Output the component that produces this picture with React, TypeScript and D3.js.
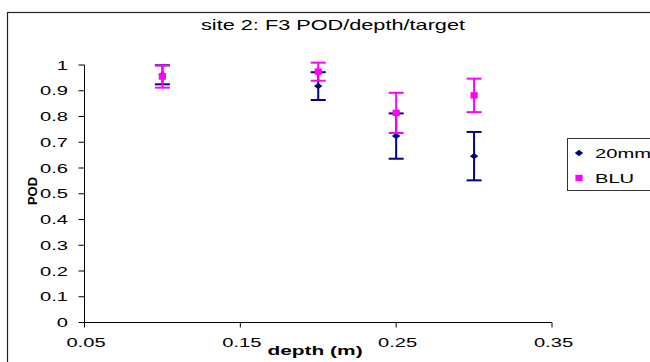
import React from "react";
import * as d3 from "d3";

const depths = [0.1, 0.2, 0.25, 0.3];
const pod20mm = [0.962, 0.918, 0.724, 0.646];
const err20mm = [0.037, 0.054, 0.088, 0.094];
const podBLU = [0.955, 0.974, 0.814, 0.882];
const errBLU = [0.043, 0.035, 0.078, 0.065];
const xTicks = [0.05, 0.15, 0.25, 0.35];
const yTicks = [0, 0.1, 0.2, 0.3, 0.4, 0.5, 0.6, 0.7, 0.8, 0.9, 1];

const W = 650;
const H = 362;
const font = "Arial, 'Liberation Sans', sans-serif";
const SX = 1.55; // horizontal stretch of the chart's lettering

type TProps = {
  x: number;
  y: number;
  size: number;
  anchor?: "start" | "middle" | "end";
  bold?: boolean;
  children: React.ReactNode;
};

function WideText({ x, y, size, anchor = "start", bold, children }: TProps) {
  return (
    <text
      transform={`translate(${x},${y}) scale(${SX},1)`}
      textAnchor={anchor}
      fontSize={size}
      fontWeight={bold ? "bold" : "normal"}
      fill="#000"
    >
      {children}
    </text>
  );
}

export default function App() {
  const x = d3.scaleLinear().domain([0.05, 0.35]).range([84.5, 552]);
  const y = d3.scaleLinear().domain([0, 1]).range([322.5, 65]);

  const diamond = "M0,-3.2L4.2,0L0,3.2L-4.2,0Z";
  const square = "M-3.6,-3.2H3.6V3.2H-3.6Z";

  const series = [
    { name: "20mm", vals: pod20mm, errs: err20mm, color: "#000080", shape: diamond },
    { name: "BLU", vals: podBLU, errs: errBLU, color: "#FF00FF", shape: square },
  ];

  const cap = 7.5;

  return (
    <svg
      width={W}
      height={H}
      style={{ position: "fixed", left: 0, top: 0, background: "#fff" }}
      fontFamily={font}
    >
      <rect x={7.5} y={12.5} width={700} height={400} fill="#fff" stroke="#222" strokeWidth={1.2} />
      <WideText x={333} y={30} size={14} anchor="middle">
        site 2: F3 POD/depth/target
      </WideText>

      {/* axes */}
      <line x1={x(0.05)} x2={x(0.05)} y1={y(1)} y2={y(0)} stroke="#000" />
      <line x1={x(0.05)} x2={x(0.35)} y1={y(0)} y2={y(0)} stroke="#000" />
      {yTicks.map((t) => (
        <g key={"y" + t}>
          <line x1={x(0.05) - 6} x2={x(0.05)} y1={y(t)} y2={y(t)} stroke="#000" />
          <WideText x={68} y={y(t) + 4.7} size={13} anchor="end">
            {t === 0 || t === 1 ? String(t) : t.toFixed(1)}
          </WideText>
        </g>
      ))}
      {xTicks.map((t) => (
        <g key={"x" + t}>
          <line x1={x(t)} x2={x(t)} y1={y(0)} y2={y(0) + 5} stroke="#000" />
          <WideText x={x(t) + 1.5} y={347} size={13} anchor="middle">
            {t.toFixed(2)}
          </WideText>
        </g>
      ))}
      <WideText x={315} y={355} size={13.5} anchor="middle" bold>
        depth (m)
      </WideText>
      <text
        transform={`translate(37,191) rotate(-90)`}
        textAnchor="middle"
        fontSize={13}
        fontWeight="bold"
      >
        POD
      </text>

      {/* error bars and markers */}
      {series.map((s) => (
        <g key={s.name}>
          {depths.map((d, i) => {
            const cx = x(d);
            const top = y(s.vals[i] + s.errs[i]);
            const bot = y(s.vals[i] - s.errs[i]);
            return (
              <g key={i} stroke={s.color} strokeWidth={2}>
                <line x1={cx} x2={cx} y1={top} y2={bot} />
                <line x1={cx - cap} x2={cx + cap} y1={top} y2={top} />
                <line x1={cx - cap} x2={cx + cap} y1={bot} y2={bot} />
              </g>
            );
          })}
          {depths.map((d, i) => (
            <path
              key={"m" + i}
              d={s.shape}
              transform={`translate(${x(d)},${y(s.vals[i])})`}
              fill={s.color}
            />
          ))}
        </g>
      ))}

      {/* legend */}
      <rect x={567.5} y={138.5} width={100} height={52} fill="#fff" stroke="#333" />
      {series.map((s, i) => (
        <g key={"lg" + s.name}>
          <path d={s.shape} transform={`translate(579,${153 + i * 25})`} fill={s.color} />
          <WideText x={595} y={158 + i * 25} size={13}>
            {s.name}
          </WideText>
        </g>
      ))}
    </svg>
  );
}
